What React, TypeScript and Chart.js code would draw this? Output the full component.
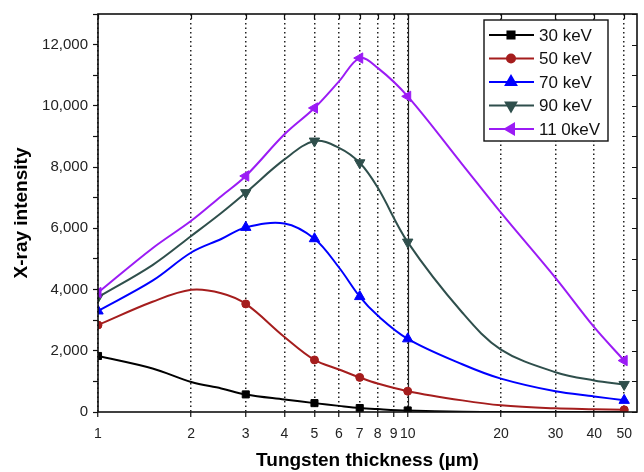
import React, { useEffect, useRef } from 'react';
import { Chart, registerables } from 'chart.js';
import { drawPoint } from 'chart.js/helpers';

Chart.register(...registerables);

const thickness = [1, 1.5, 2, 2.5, 3, 4, 5, 6, 7, 8, 10, 15, 20, 30, 40, 50];
// Thickness values that carry a marker
const measuredThickness = [1, 3, 5, 7, 10, 50];

const kev30 = [1830, 1420, 980, 770, 575, 410, 290, 200, 130, 95, 50, 10, 0, 0, 0, 0];
const kev50 = [2840, 3600, 3990, 3880, 3530, 2450, 1700, 1390, 1130, 930, 680, 380, 220, 120, 90, 70];
const kev70 = [3300, 4290, 5210, 5650, 6030, 6160, 5660, 4720, 3770, 3150, 2390, 1560, 1090, 675, 510, 380];
const kev90 = [3750, 4800, 5750, 6500, 7165, 8250, 8850, 8630, 8140, 7330, 5550, 3250, 2040, 1300, 1030, 900];
const kev110 = [3900, 5350, 6245, 7050, 7710, 9070, 9930, 10800, 11560, 11240, 10310, 8090, 6510, 4380, 2770, 1680];

const seriesLabels = ['30 keV', '50 keV', '70 keV', '90 keV', '11 0keV'];
const seriesValues = [kev30, kev50, kev70, kev90, kev110];
const seriesColors = ['#000000', '#a51d1d', '#0000ff', '#2f4f4c', '#9b1bf5'];
const seriesMarkers = [
  { style: 'rect', rotation: 0, radius: 5 },
  { style: 'circle', rotation: 0, radius: 4 },
  { style: 'triangle', rotation: 0, radius: 6 },
  { style: 'triangle', rotation: 180, radius: 6 },
  { style: 'triangle', rotation: 270, radius: 6 },
];

const xTickValues = [1, 2, 3, 4, 5, 6, 7, 8, 9, 10, 20, 30, 40, 50];
const xMin = 1;
const xMax = 55;
const yMin = 0;
const yMax = 13000;
const yStep = 1000;
const xTitle = 'Tungsten thickness (\u00b5m)';
const yTitle = 'X-ray intensity';

const FONT = 'Arial, "Liberation Sans", sans-serif';

const framePlugin = {
  id: 'frame',
  beforeDatasetsDraw(chart: any) {
    const { ctx, chartArea: a, scales } = chart;
    const x10 = Math.round(scales.x.getPixelForValue(10)) + 0.5;
    ctx.save();
    ctx.strokeStyle = '#222';
    ctx.lineWidth = 1.2;
    ctx.beginPath();
    ctx.moveTo(x10, a.top);
    ctx.lineTo(x10, a.bottom);
    ctx.stroke();
    ctx.restore();
  },
  afterDraw(chart: any) {
    const { ctx, chartArea: a, scales } = chart;
    ctx.save();
    // inward ticks on top and right
    ctx.strokeStyle = '#111';
    ctx.lineWidth = 1.2;
    ctx.beginPath();
    for (const v of xTickValues) {
      const px = Math.round(scales.x.getPixelForValue(v)) + 0.5;
      ctx.moveTo(px, a.top);
      ctx.lineTo(px, a.top + 5);
    }
    for (let v = yMin; v <= yMax; v += yStep) {
      const py = Math.round(scales.y.getPixelForValue(v)) + 0.5;
      ctx.moveTo(a.right, py);
      ctx.lineTo(a.right - 5, py);
    }
    ctx.stroke();
    // frame
    ctx.strokeStyle = '#111';
    ctx.lineWidth = 1.6;
    ctx.strokeRect(a.left, a.top, a.right - a.left, a.bottom - a.top);

    // legend
    const lx = a.right - 153;
    const ly = a.top + 6;
    const lw = 124;
    const lh = 121;
    ctx.fillStyle = '#ffffff';
    ctx.fillRect(lx, ly, lw, lh);
    ctx.strokeStyle = '#111';
    ctx.lineWidth = 1.4;
    ctx.strokeRect(lx, ly, lw, lh);
    ctx.font = '17px ' + FONT;
    ctx.textBaseline = 'middle';
    ctx.textAlign = 'left';
    seriesLabels.forEach((label, i) => {
      const cy = ly + 15 + i * 23.5;
      ctx.strokeStyle = seriesColors[i];
      ctx.fillStyle = seriesColors[i];
      ctx.lineWidth = 2;
      ctx.beginPath();
      ctx.moveTo(lx + 5, cy);
      ctx.lineTo(lx + 50, cy);
      ctx.stroke();
      const m = seriesMarkers[i];
      drawPoint(ctx, { pointStyle: m.style, rotation: m.rotation, radius: m.radius, borderWidth: 1 } as any, lx + 27, cy);
      ctx.fillStyle = '#111';
      ctx.fillText(label, lx + 55, cy + 1);
    });
    ctx.restore();
  },
};

export default function App() {
  const canvasRef = useRef<HTMLCanvasElement | null>(null);

  useEffect(() => {
    if (!canvasRef.current) return;
    const datasets = seriesValues.map((vals, i) => {
      const m = seriesMarkers[i];
      return {
        label: seriesLabels[i],
        data: thickness.map((t, j) => ({ x: t, y: vals[j] })),
        borderColor: seriesColors[i],
        backgroundColor: seriesColors[i],
        borderWidth: 2,
        tension: 0.35,
        pointStyle: m.style,
        rotation: m.rotation,
        pointBorderWidth: 1,
        pointRadius: (c: any) => (c.raw && measuredThickness.includes(c.raw.x) ? m.radius : 0),
        fill: false,
        order: 5 - i,
      };
    });

    const chart = new Chart(canvasRef.current, {
      type: 'line',
      data: { datasets: datasets as any },
      plugins: [framePlugin],
      options: {
        animation: false,
        responsive: true,
        maintainAspectRatio: false,
        events: [],
        layout: { padding: { top: 11, right: 3, left: 0, bottom: 0 } },
        plugins: {
          legend: { display: false },
          tooltip: { enabled: false },
        },
        scales: {
          x: {
            type: 'logarithmic',
            min: xMin,
            max: xMax,
            afterBuildTicks: (scale: any) => {
              scale.ticks = xTickValues.map((v) => ({ value: v }));
            },
            afterFit: (scale: any) => {
              scale.height = 60;
            },
            ticks: {
              autoSkip: false,
              maxRotation: 0,
              padding: 9,
              color: '#222',
              font: { family: FONT, size: 14 },
              callback: (v: any) => String(v),
            },
            grid: {
              display: true,
              drawOnChartArea: true,
              drawTicks: true,
              color: '#222',
              lineWidth: 1.5,
              tickLength: 5,
              tickColor: '#111',
              tickWidth: 1.2,
            },
            border: { display: false, dash: [1.5, 3] },
            title: {
              display: true,
              text: xTitle,
              color: '#000',
              font: { family: FONT, size: 19, weight: 'bold' },
              padding: { top: 0, bottom: 0 },
            },
          },
          y: {
            type: 'linear',
            min: yMin,
            max: yMax,
            afterFit: (scale: any) => {
              scale.width = 98;
            },
            ticks: {
              stepSize: yStep,
              autoSkip: false,
              padding: 5,
              color: '#222',
              font: { family: FONT, size: 15 },
              callback: (v: any) => (Number(v) % 2000 === 0 ? Number(v).toLocaleString('en-US') : ''),
            },
            grid: {
              display: true,
              drawOnChartArea: false,
              drawTicks: true,
              tickLength: 5,
              tickColor: '#111',
              tickWidth: 1.2,
            },
            border: { display: false },
            title: {
              display: true,
              text: yTitle,
              color: '#000',
              font: { family: FONT, size: 19, weight: 'bold' },
              padding: { top: 10, bottom: 0 },
            },
          },
        },
      } as any,
    });
    return () => chart.destroy();
  }, []);

  return (
    <div style={{ position: 'fixed', left: 0, top: 0, width: 644, height: 472, background: '#fff' }}>
      <canvas ref={canvasRef} />
    </div>
  );
}
